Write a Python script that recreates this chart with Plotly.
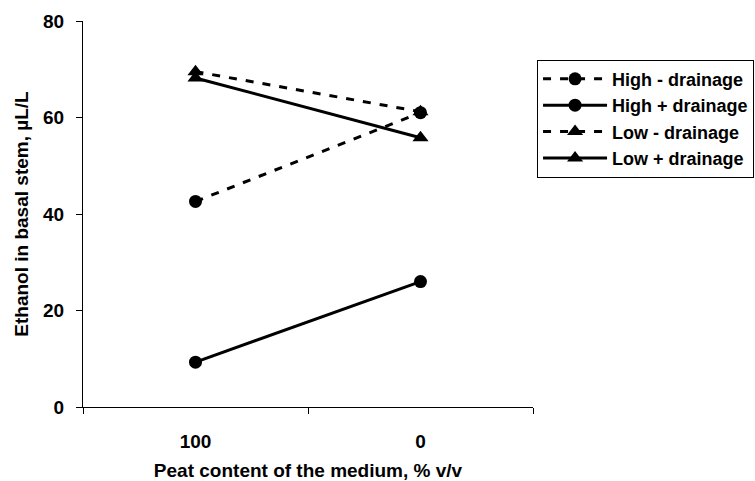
import plotly.graph_objects as go

# Peat content categories (x axis)
peat = ["100", "0"]

# Ethanol in basal stem, µL/L
high_minus_drainage = [42.6, 61.0]
high_plus_drainage = [9.3, 26.0]
low_minus_drainage = [69.5, 61.2]
low_plus_drainage = [68.2, 55.8]

series = [
    ("High - drainage", high_minus_drainage, "circle", "dash"),
    ("High + drainage", high_plus_drainage, "circle", "solid"),
    ("Low - drainage", low_minus_drainage, "triangle-up", "dash"),
    ("Low + drainage", low_plus_drainage, "triangle-up", "solid"),
]

FONT = "Arial, 'Liberation Sans', sans-serif"
FS = 19

fig = go.Figure()
for name, vals, sym, dash in series:
    fig.add_trace(go.Scatter(
        x=peat, y=vals, name=name, mode="lines+markers",
        line=dict(color="black", width=3, dash="8px,9px" if dash == "dash" else "solid"),
        marker=dict(symbol=sym, size=13 if sym == "circle" else 14, color="black"),
    ))

fig.update_layout(
    width=755, height=481,
    margin=dict(l=83, r=222, t=21, b=74, autoexpand=False),
    paper_bgcolor="white", plot_bgcolor="white",
    font=dict(family=FONT, size=FS, color="black", weight="bold"),
    showlegend=True,
    legend=dict(
        x=1.009, xanchor="left", y=0.90, yanchor="top",
        bordercolor="black", borderwidth=1, bgcolor="white",
        font=dict(family=FONT, size=18, color="black", weight="bold"),
        itemwidth=64, tracegroupgap=0,
    ),
    xaxis=dict(
        type="category", tickson="boundaries", range=[-0.5, 1.5],
        showline=True, linecolor="black", linewidth=1,
        ticks="outside", ticklen=6, tickcolor="black",
        showgrid=False, ticklabelstandoff=17,
        title=dict(text="Peat content of the medium, % v/v", standoff=17,
                   font=dict(family=FONT, size=FS, weight="bold")),
    ),
    yaxis=dict(
        range=[0, 80], tickvals=[0, 20, 40, 60, 80],
        showline=True, linecolor="black", linewidth=1,
        ticks="outside", ticklen=6, tickcolor="black",
        showgrid=False, zeroline=False, ticklabelstandoff=8,
        title=dict(text="Ethanol in basal stem, µL/L", standoff=9,
                   font=dict(family=FONT, size=FS, weight="bold")),
    ),
)

fig.write_html("out.html")
